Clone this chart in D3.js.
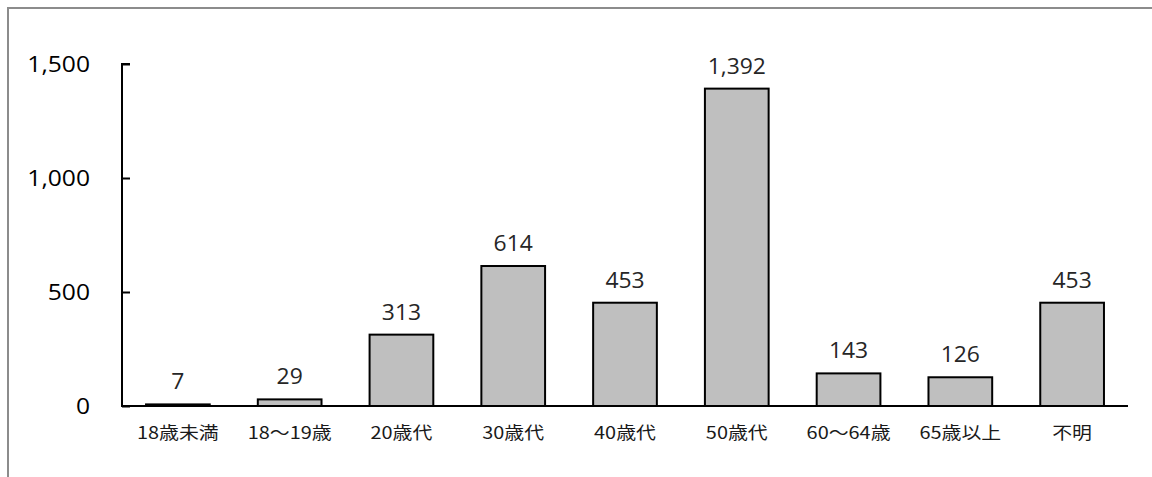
<!DOCTYPE html>
<html>
<head>
<meta charset="utf-8">
<script src="https://cdn.jsdelivr.net/npm/d3@7"></script>
<style>
  html, body { margin: 0; padding: 0; background: #fff; }
  svg { display: block; }
</style>
</head>
<body>
<svg id="chart" width="1152" height="477"></svg>
<script>
// Age groups and counts
const categories = ["18歳未満", "18～19歳", "20歳代", "30歳代", "40歳代", "50歳代", "60～64歳", "65歳以上", "不明"];
const counts = [7, 29, 313, 614, 453, 1392, 143, 126, 453];
const yTicks = [0, 500, 1000, 1500];

const svg = d3.select("#chart");
const W = 1152, H = 477;

// Frame around the chart area (extends past the right and bottom edges)
svg.append("rect")
  .attr("x", 8).attr("y", 8)
  .attr("width", W + 20).attr("height", H + 20)
  .attr("fill", "#fff")
  .attr("stroke", "#8c8c8c")
  .attr("stroke-width", 2);

const plotLeft = 122, plotRight = 1128, plotTop = 64, plotBottom = 406;

const x = d3.scaleBand().domain(categories).range([plotLeft, plotRight]).paddingInner(0.43).paddingOuter(0.215);
const y = d3.scaleLinear().domain([0, 1500]).range([plotBottom, plotTop]);

const numFmt = d3.format(",");
const numFont = "'Open Sans', 'Noto Sans', sans-serif";
const cjkFont = "'Noto Sans CJK JP', sans-serif";

// Text is drawn slightly wide, as in the original typeface
const wide = (px, py, sx) => `translate(${px},${py}) scale(${sx},1)`;

// Bars
svg.append("g").selectAll("rect")
  .data(counts)
  .join("rect")
  .attr("x", (d, i) => x(categories[i]))
  .attr("y", d => y(d))
  .attr("width", x.bandwidth())
  .attr("height", d => y(0) - y(d))
  .attr("fill", "#bfbfbf")
  .attr("stroke", "#000")
  .attr("stroke-width", 2);

// Value labels
svg.append("g").selectAll("text")
  .data(counts)
  .join("text")
  .attr("transform", (d, i) => wide(x(categories[i]) + x.bandwidth() / 2, y(d) - 15, 1.04))
  .attr("text-anchor", "middle")
  .attr("font-family", numFont)
  .attr("font-size", 22)
  .attr("fill", "#262626")
  .text(d => numFmt(d));

// Y axis with inward ticks
const yAxis = d3.axisRight(y).tickValues(yTicks).tickSize(8).tickFormat("");
const gy = svg.append("g").attr("transform", `translate(${plotLeft},0)`).call(yAxis);
gy.select(".domain").attr("stroke", "#000").attr("stroke-width", 2)
  .attr("d", `M8,${plotTop}H0V${plotBottom}`);
gy.selectAll(".tick line").attr("stroke", "#000").attr("stroke-width", 2);

// Y tick labels
svg.append("g").selectAll("text")
  .data(yTicks)
  .join("text")
  .attr("transform", d => wide(90, y(d) + 8, 1.12))
  .attr("text-anchor", "end")
  .attr("font-family", numFont)
  .attr("font-size", 22)
  .attr("fill", "#000")
  .text(d => numFmt(d));

// X axis baseline
const xAxis = d3.axisBottom(x).tickSize(0).tickFormat("");
const gx = svg.append("g").attr("transform", `translate(0,${plotBottom})`).call(xAxis);
gx.select(".domain").attr("stroke", "#000").attr("stroke-width", 2)
  .attr("d", `M${plotLeft - 1},0H${plotRight}`);

// Category labels
svg.append("g").selectAll("text")
  .data(categories)
  .join("text")
  .attr("transform", d => wide(x(d) + x.bandwidth() / 2, plotBottom + 33, 1.17))
  .attr("text-anchor", "middle")
  .attr("font-family", cjkFont)
  .attr("font-size", 17)
  .attr("fill", "#1a1a1a")
  .text(d => d);
</script>
</body>
</html>
